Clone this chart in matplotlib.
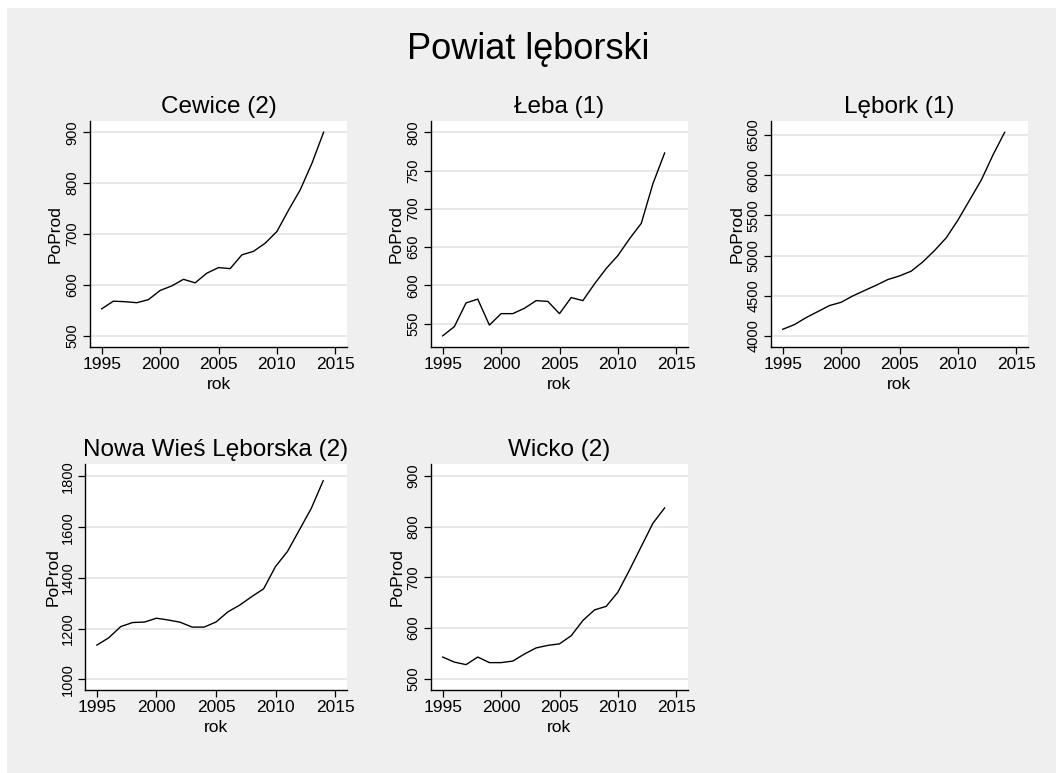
import matplotlib
matplotlib.use("Agg")
import matplotlib.pyplot as plt
from matplotlib.patches import Rectangle

plt.rcParams['font.family'] = ['Liberation Sans', 'DejaVu Sans']

years = list(range(1995, 2015))

cewice = [553, 568, 567, 565, 571, 589, 598, 611, 604, 623, 634, 632, 659, 666, 682, 705, 747, 787, 839, 900]
leba = [534, 546, 577, 582, 548, 563, 563, 570, 580, 579, 563, 584, 580, 602, 622, 639, 661, 681, 733, 773]
lebork = [4083, 4141, 4228, 4303, 4378, 4419, 4498, 4565, 4631, 4702, 4747, 4806, 4922, 5063, 5221, 5441, 5690, 5939, 6251, 6533]
nowa_wies = [1135, 1164, 1208, 1224, 1226, 1241, 1234, 1225, 1206, 1206, 1226, 1266, 1293, 1326, 1357, 1445, 1504, 1589, 1674, 1783]
wicko = [543, 533, 528, 543, 532, 532, 535, 549, 561, 566, 569, 585, 615, 636, 643, 671, 715, 761, 807, 837]

titles = ["Cewice (2)", "Łeba (1)", "Lębork (1)", "Nowa Wieś Lęborska (2)", "Wicko (2)"]
series = [cewice, leba, lebork, nowa_wies, wicko]
yticks = [[500, 600, 700, 800, 900],
          [550, 600, 650, 700, 750, 800],
          [4000, 4500, 5000, 5500, 6000, 6500],
          [1000, 1200, 1400, 1600, 1800],
          [500, 600, 700, 800, 900]]
xticks = [1995, 2000, 2005, 2010, 2015]
main_title = "Powiat lęborski"

W, H = 1056, 773
fig = plt.figure(figsize=(W / 100, H / 100), dpi=100)
fig.patch.set_facecolor('white')
fig.patches.append(Rectangle((7 / W, 0), 1 - 7 / W, 1 - 8 / H, transform=fig.transFigure,
                             facecolor='#efefef', edgecolor='none', zorder=-10))

# pixel boxes: left, top, right, bottom
boxes = [(90, 121, 347, 347),
         (431, 121, 688, 347),
         (771, 121, 1028, 347),
         (85, 464, 347, 690),
         (431, 464, 688, 690)]
ylims = [(478, 922), (519.4, 814.8), (3863, 6674), (958, 1849), (478, 923.7)]
ylab_x = [-0.105, -0.106, -0.1035, -0.092, -0.1035]

for i, (l, t, r, b) in enumerate(boxes):
    ax = fig.add_axes([l / W, 1 - b / H, (r - l) / W, (b - t) / H])
    ax.set_facecolor('white')
    ax.plot(years, series[i], color='black', lw=1.0, zorder=3)
    ax.set_xlim(1994, 2016)
    ax.set_ylim(*ylims[i])
    ax.set_xticks(xticks)
    ax.set_yticks(yticks[i])
    ax.set_yticklabels([str(v) for v in yticks[i]], rotation=90, va='center', fontsize=10.5)
    ax.grid(axis='y', color='#e4e4e4', lw=1.2, zorder=0)
    ax.set_axisbelow(True)
    for s in ['top', 'right']:
        ax.spines[s].set_visible(False)
    for s in ['left', 'bottom']:
        ax.spines[s].set_linewidth(1.0)
        ax.spines[s].set_color('black')
    ax.tick_params(axis='both', length=5, width=0.9, pad=2.5, colors='black')
    ax.tick_params(axis='x', labelsize=12.5)
    ax.set_xlabel('rok', fontsize=12.5, labelpad=3.0)
    ax.set_ylabel('PoProd', fontsize=12.5)
    ax.yaxis.set_label_coords(ylab_x[i], 0.5)
    ax.set_title(titles[i], fontsize=17.5, pad=6)

fig.text(0.5, 1 - 59.3 / H, main_title, ha='center', va='baseline', fontsize=26)

fig.savefig('out.png', dpi=100, facecolor=fig.get_facecolor())
